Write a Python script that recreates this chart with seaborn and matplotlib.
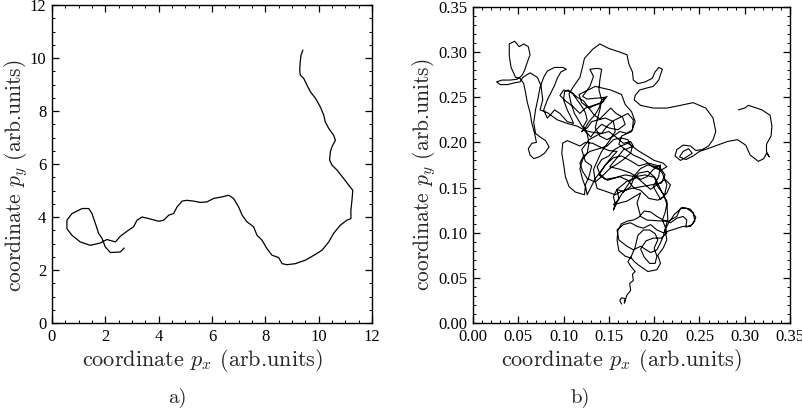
import numpy as np
import pandas as pd
import seaborn as sns
import matplotlib.pyplot as plt
from matplotlib.ticker import MultipleLocator, FormatStrFormatter

# panel a) : smooth trajectory
traj_a_x = [2.71, 2.56, 2.19, 2.00, 1.88, 1.75, 1.63, 1.50, 1.38, 1.13, 0.75, 0.56,
            0.56, 0.75, 1.06, 1.44, 1.81, 2.06, 2.38, 2.56, 2.81, 3.06, 3.19, 3.38,
            3.63, 4.00, 4.19, 4.38, 4.56, 4.69, 4.88, 5.06, 5.31, 5.56, 5.81, 6.06,
            6.38, 6.63, 6.81, 7.00, 7.13, 7.31, 7.56, 7.69, 7.88, 8.06, 8.25, 8.50,
            8.63, 8.81, 9.13, 9.50, 9.88, 10.13, 10.38, 10.56, 10.81, 11.06, 11.21,
            11.21, 11.25, 11.28, 11.13, 10.94, 10.69, 10.50, 10.41, 10.44, 10.50,
            10.63, 10.56, 10.38, 10.25, 10.19, 10.06, 9.88, 9.69, 9.56, 9.44, 9.31,
            9.29, 9.31, 9.34, 9.41]
traj_a_y = [2.83, 2.68, 2.66, 2.87, 3.19, 3.38, 3.75, 4.13, 4.32, 4.32, 4.13, 3.88,
            3.56, 3.31, 3.06, 2.93, 3.02, 3.15, 3.06, 3.27, 3.46, 3.63, 3.88, 4.00,
            3.94, 3.84, 3.88, 4.07, 4.13, 4.38, 4.60, 4.63, 4.60, 4.55, 4.57, 4.70,
            4.76, 4.82, 4.70, 4.38, 4.07, 3.82, 3.63, 3.31, 3.12, 2.81, 2.56, 2.47,
            2.24, 2.20, 2.24, 2.37, 2.59, 2.75, 3.06, 3.38, 3.69, 3.88, 3.94,
            4.26, 4.63, 5.01, 5.20, 5.45, 5.77, 5.96, 6.15, 6.46, 6.65,
            6.90, 7.09, 7.34, 7.59, 7.85, 8.16, 8.48, 8.73, 8.98, 9.23, 9.36,
            9.55, 9.86, 10.11, 10.30]

# panel b) : erratic trajectory (piece by piece)
traj_b_x = [
    # bottom tail and lower loops
    0.164, 0.162, 0.164, 0.168, 0.167, 0.170, 0.174, 0.173, 0.177, 0.176, 0.179, 0.174,
    0.171, 0.174, 0.178, 0.183, 0.193, 0.203, 0.207, 0.204, 0.210, 0.214, 0.212, 0.216,
    0.222, 0.231, 0.240, 0.246, 0.242, 0.235, 0.236, 0.232, 0.225, 0.218, 0.210, 0.203,
    0.196, 0.189, 0.183, 0.177, 0.171, 0.164, 0.160, 0.159, 0.161, 0.168, 0.174, 0.179,
    0.182, 0.188, 0.195, 0.201, 0.204, 0.200, 0.203, 0.201, 0.195, 0.189, 0.185, 0.191,
    0.199, 0.208, 0.214, 0.212, 0.209, 0.212,
    # central band, lower part
    0.214, 0.210, 0.204, 0.200, 0.193, 0.183, 0.177, 0.174, 0.166, 0.159, 0.155, 0.157,
    0.155, 0.160, 0.165, 0.171, 0.177, 0.185, 0.193, 0.203, 0.209, 0.214, 0.211, 0.204,
    0.194, 0.185, 0.178, 0.171, 0.162, 0.155, 0.148, 0.140, 0.137, 0.142, 0.150, 0.156,
    0.163, 0.171, 0.176, 0.174, 0.166, 0.159, 0.151, 0.144, 0.135, 0.126, 0.121, 0.118,
    0.122, 0.129, 0.139, 0.148, 0.155, 0.163, 0.171, 0.174, 0.182, 0.192, 0.200, 0.210,
    0.214, 0.207, 0.198, 0.188, 0.177, 0.167,
    # central band knots
    0.151, 0.163, 0.174, 0.185, 0.192, 0.199, 0.207, 0.205, 0.199, 0.207, 0.214, 0.218,
    0.212, 0.196, 0.188, 0.181, 0.170, 0.159, 0.161, 0.155,
    0.170, 0.185, 0.181, 0.185, 0.192, 0.207, 0.216, 0.225, 0.229, 0.236, 0.243, 0.245,
    0.240, 0.232,
    0.210, 0.203, 0.196, 0.188, 0.181, 0.174, 0.166, 0.159, 0.161, 0.170, 0.177, 0.185,
    0.196, 0.203, 0.207, 0.210, 0.215,
    0.214, 0.208, 0.201, 0.190, 0.179, 0.168, 0.157, 0.146, 0.139, 0.146, 0.155, 0.164,
    0.175, 0.183, 0.194, 0.205, 0.212, 0.208, 0.197, 0.186, 0.175, 0.164, 0.157, 0.146,
    0.137, 0.135, 0.133, 0.137, 0.142, 0.150, 0.157, 0.155, 0.146, 0.131, 0.126, 0.120,
    0.124, 0.128, 0.135, 0.139, 0.142, 0.148, 0.143, 0.128, 0.120, 0.117,
    0.135, 0.152,
    0.164, 0.168, 0.175, 0.179, 0.175, 0.164, 0.161, 0.168, 0.177, 0.174, 0.166, 0.159,
    0.150, 0.139, 0.128, 0.120, 0.124, 0.131, 0.128, 0.124, 0.126,
    0.135, 0.150,
    # left loop and upper left
    0.159, 0.150, 0.140, 0.132, 0.124, 0.118, 0.111, 0.104, 0.099, 0.098, 0.100, 0.102,
    0.106, 0.113, 0.123, 0.124, 0.121, 0.118, 0.121, 0.126, 0.128, 0.126, 0.122, 0.126,
    0.124, 0.120, 0.115, 0.110, 0.105, 0.101, 0.100, 0.104, 0.108, 0.111, 0.104, 0.096,
    0.090, 0.085, 0.082, 0.078, 0.082, 0.086, 0.090, 0.093, 0.097, 0.103, 0.099, 0.090,
    0.082, 0.078, 0.074, 0.072, 0.069, 0.067, 0.069, 0.074, 0.080, 0.084, 0.079, 0.073,
    0.067, 0.063, 0.061, 0.065, 0.070,
    0.068, 0.065, 0.063, 0.060, 0.058, 0.056, 0.052, 0.047, 0.042, 0.040, 0.040, 0.046,
    0.051, 0.056, 0.061, 0.063, 0.060, 0.057, 0.054, 0.049, 0.041, 0.032, 0.026, 0.030,
    0.038, 0.046, 0.052, 0.055, 0.063, 0.071, 0.075, 0.077, 0.074,
    # upper centre, arch and right excursion
    0.082, 0.093, 0.104, 0.115, 0.124, 0.133, 0.142, 0.148, 0.155, 0.163, 0.171, 0.177,
    0.176, 0.170, 0.162, 0.155, 0.148, 0.140, 0.135, 0.137, 0.140, 0.142, 0.139, 0.140,
    0.142, 0.137, 0.129, 0.133, 0.129, 0.121, 0.126, 0.137, 0.146, 0.143, 0.133, 0.124,
    0.118, 0.110, 0.102, 0.096, 0.100, 0.108, 0.115, 0.122, 0.128, 0.134, 0.140, 0.146,
    0.152, 0.158, 0.165, 0.168, 0.160, 0.150, 0.142, 0.136, 0.130, 0.124, 0.118, 0.112,
    0.108, 0.106,
    0.111, 0.118, 0.121, 0.123, 0.132, 0.140, 0.150, 0.162, 0.170, 0.172, 0.176, 0.177,
    0.182, 0.190, 0.198, 0.201, 0.205, 0.209, 0.205, 0.199, 0.191, 0.184, 0.179, 0.178,
    0.185, 0.199, 0.214, 0.229, 0.243, 0.257, 0.265, 0.268, 0.265, 0.260, 0.253, 0.246,
    0.240, 0.232, 0.225, 0.223, 0.229, 0.236, 0.242, 0.238, 0.232, 0.228, 0.235, 0.243,
    0.250, 0.259, 0.270, 0.281, 0.292, 0.301, 0.306, 0.315, 0.321, 0.324, 0.327, 0.324,
    0.324, 0.329, 0.330, 0.328, 0.319, 0.310, 0.304, 0.300, 0.293]
traj_b_y = [
    0.021, 0.025, 0.028, 0.027, 0.022, 0.031, 0.036, 0.044, 0.047, 0.054, 0.057, 0.063,
    0.068, 0.073, 0.068, 0.064, 0.057, 0.059, 0.066, 0.075, 0.083, 0.092, 0.103, 0.111,
    0.120, 0.128, 0.126, 0.117, 0.109, 0.106, 0.114, 0.118, 0.116, 0.111, 0.114, 0.118,
    0.123, 0.124, 0.117, 0.114, 0.113, 0.110, 0.103, 0.092, 0.080, 0.074, 0.072, 0.084,
    0.097, 0.103, 0.103, 0.099, 0.092, 0.083, 0.074, 0.066, 0.066, 0.073, 0.082, 0.091,
    0.094, 0.094, 0.100, 0.107, 0.114, 0.122,
    0.132, 0.143, 0.151, 0.162, 0.168, 0.166, 0.159, 0.151, 0.145, 0.148, 0.140, 0.132,
    0.125, 0.136, 0.144, 0.153, 0.162, 0.171, 0.175, 0.173, 0.166, 0.153, 0.140, 0.136,
    0.138, 0.147, 0.149, 0.158, 0.162, 0.160, 0.158, 0.165, 0.173, 0.181, 0.185, 0.192,
    0.196, 0.199, 0.196, 0.188, 0.181, 0.176, 0.171, 0.164, 0.156, 0.160, 0.168, 0.177,
    0.185, 0.190, 0.193, 0.196, 0.203, 0.205, 0.203, 0.197, 0.191, 0.185, 0.180, 0.177,
    0.173, 0.169, 0.173, 0.181, 0.186, 0.193,
    0.173, 0.170, 0.166, 0.159, 0.162, 0.170, 0.175, 0.162, 0.151, 0.137, 0.144, 0.153,
    0.159, 0.148, 0.155, 0.161, 0.157, 0.148, 0.137, 0.131,
    0.135, 0.144, 0.133, 0.118, 0.114, 0.113, 0.113, 0.118, 0.127, 0.127, 0.122, 0.113,
    0.107, 0.107,
    0.100, 0.103, 0.109, 0.105, 0.107, 0.111, 0.109, 0.103, 0.092, 0.085, 0.081, 0.085,
    0.078, 0.081, 0.089, 0.096, 0.115,
    0.135, 0.146, 0.161, 0.164, 0.162, 0.164, 0.161, 0.159, 0.164, 0.175, 0.183, 0.185,
    0.179, 0.174, 0.177, 0.174, 0.164, 0.155, 0.153, 0.151, 0.149, 0.146, 0.142, 0.146,
    0.149, 0.157, 0.170, 0.179, 0.190, 0.201, 0.212, 0.223, 0.227, 0.223, 0.216, 0.212,
    0.216, 0.223, 0.231, 0.238, 0.247, 0.251, 0.245, 0.238, 0.244, 0.253,
    0.262, 0.258,
    0.253, 0.242, 0.234, 0.223, 0.212, 0.207, 0.198, 0.192, 0.196, 0.201, 0.199, 0.205,
    0.212, 0.209, 0.203, 0.192, 0.179, 0.174, 0.162, 0.153, 0.142,
    0.160, 0.180,
    0.190, 0.191, 0.195, 0.199, 0.200, 0.196, 0.199, 0.202, 0.199, 0.188, 0.176, 0.162,
    0.151, 0.145, 0.142, 0.151, 0.159, 0.171, 0.181, 0.188, 0.199, 0.210, 0.218, 0.225,
    0.233, 0.240, 0.247, 0.254, 0.258, 0.256, 0.247, 0.236, 0.228, 0.221, 0.223, 0.232,
    0.236, 0.230, 0.227, 0.236, 0.247, 0.255, 0.263, 0.271, 0.278, 0.281, 0.283, 0.283,
    0.279, 0.272, 0.261, 0.250, 0.236, 0.222, 0.210, 0.206, 0.202, 0.195, 0.188, 0.184,
    0.182, 0.186, 0.193, 0.199, 0.200,
    0.210, 0.221, 0.233, 0.244, 0.255, 0.265, 0.271, 0.272, 0.283, 0.296, 0.309, 0.312,
    0.306, 0.309, 0.306, 0.297, 0.289, 0.280, 0.274, 0.270, 0.269, 0.269, 0.267, 0.264,
    0.264, 0.266, 0.267, 0.272, 0.277, 0.272, 0.263, 0.247, 0.236,
    0.233, 0.225, 0.221, 0.218, 0.213, 0.211, 0.210, 0.218, 0.224, 0.228, 0.232, 0.225,
    0.214, 0.210, 0.212, 0.207, 0.203, 0.207, 0.216, 0.225, 0.236, 0.247, 0.258, 0.269,
    0.281, 0.282, 0.281, 0.273, 0.262, 0.251, 0.248, 0.249, 0.250, 0.244, 0.241, 0.238,
    0.232, 0.240, 0.246, 0.252, 0.258, 0.256, 0.250, 0.246, 0.238, 0.230, 0.226, 0.232,
    0.238, 0.232, 0.228, 0.220, 0.214, 0.216, 0.220, 0.214, 0.206, 0.212, 0.222, 0.232,
    0.244, 0.254,
    0.262, 0.272, 0.284, 0.293, 0.303, 0.309, 0.304, 0.300, 0.297, 0.287, 0.278, 0.269,
    0.265, 0.267, 0.271, 0.278, 0.283, 0.281, 0.269, 0.262, 0.260, 0.258, 0.252, 0.247,
    0.241, 0.238, 0.238, 0.241, 0.244, 0.238, 0.227, 0.212, 0.203, 0.196, 0.192, 0.191,
    0.196, 0.197, 0.192, 0.185, 0.180, 0.184, 0.188, 0.193, 0.190, 0.184, 0.181, 0.185,
    0.190, 0.193, 0.197, 0.201, 0.203, 0.197, 0.186, 0.179, 0.182, 0.188, 0.184, 0.190,
    0.198, 0.207, 0.218, 0.230, 0.236, 0.239, 0.241, 0.238, 0.236]

df_a = pd.DataFrame({'px': traj_a_x, 'py': traj_a_y})
df_b = pd.DataFrame({'px': traj_b_x, 'py': traj_b_y})

sns.set_style('ticks')
plt.rcParams['font.family'] = ['Liberation Serif', 'DejaVu Serif']
plt.rcParams['mathtext.fontset'] = 'cm'
plt.rcParams['axes.linewidth'] = 1.0

label_font = ['cmr10', 'DejaVu Serif']

fig = plt.figure(figsize=(8.02, 4.17), dpi=100)
ax_a = fig.add_axes([0.0648, 0.2254, 0.399, 0.7626])
ax_b = fig.add_axes([0.5898, 0.2254, 0.3953, 0.758])

sns.lineplot(data=df_a, x='px', y='py', sort=False, estimator=None,
             color='black', linewidth=0.9, ax=ax_a)
sns.lineplot(data=df_b, x='px', y='py', sort=False, estimator=None,
             color='black', linewidth=0.8, ax=ax_b)

ax_a.set_xlim(0, 12)
ax_a.set_ylim(0, 12)
ax_a.xaxis.set_major_locator(MultipleLocator(2))
ax_a.yaxis.set_major_locator(MultipleLocator(2))
ax_a.xaxis.set_minor_locator(MultipleLocator(0.5))
ax_a.yaxis.set_minor_locator(MultipleLocator(0.5))

ax_b.set_xlim(0, 0.35)
ax_b.set_ylim(0, 0.35)
ax_b.xaxis.set_major_locator(MultipleLocator(0.05))
ax_b.yaxis.set_major_locator(MultipleLocator(0.05))
ax_b.xaxis.set_minor_locator(MultipleLocator(0.01))
ax_b.yaxis.set_minor_locator(MultipleLocator(0.01))
ax_b.xaxis.set_major_formatter(FormatStrFormatter('%.2f'))
ax_b.yaxis.set_major_formatter(FormatStrFormatter('%.2f'))

for ax in (ax_a, ax_b):
    for s in ax.spines.values():
        s.set_visible(True)
        s.set_color('black')
    ax.tick_params(which='both', direction='in', top=True, right=True,
                   colors='black', labelsize=12)
    ax.tick_params(which='major', length=5, width=0.9, pad=4)
    ax.tick_params(which='minor', length=2.5, width=0.7)
    ax.set_xlabel('coordinate $p_x$ (arb.units)', fontsize=16, family=label_font)
    ax.set_ylabel('coordinate $p_y$ (arb.units)', fontsize=15.5, family=label_font)

# label positions (axes fraction) as in the original figure
ax_a.xaxis.set_label_coords(0.47, -0.075)
ax_b.xaxis.set_label_coords(0.47, -0.075)
ax_a.yaxis.set_label_coords(-0.069, 0.462)
ax_b.yaxis.set_label_coords(-0.112, 0.469)

fig.text(0.221, 0.045, 'a)', fontsize=15, family=label_font, ha='center', va='center')
fig.text(0.723, 0.045, 'b)', fontsize=15, family=label_font, ha='center', va='center')

fig.savefig('out.png', dpi=100, facecolor='white')
